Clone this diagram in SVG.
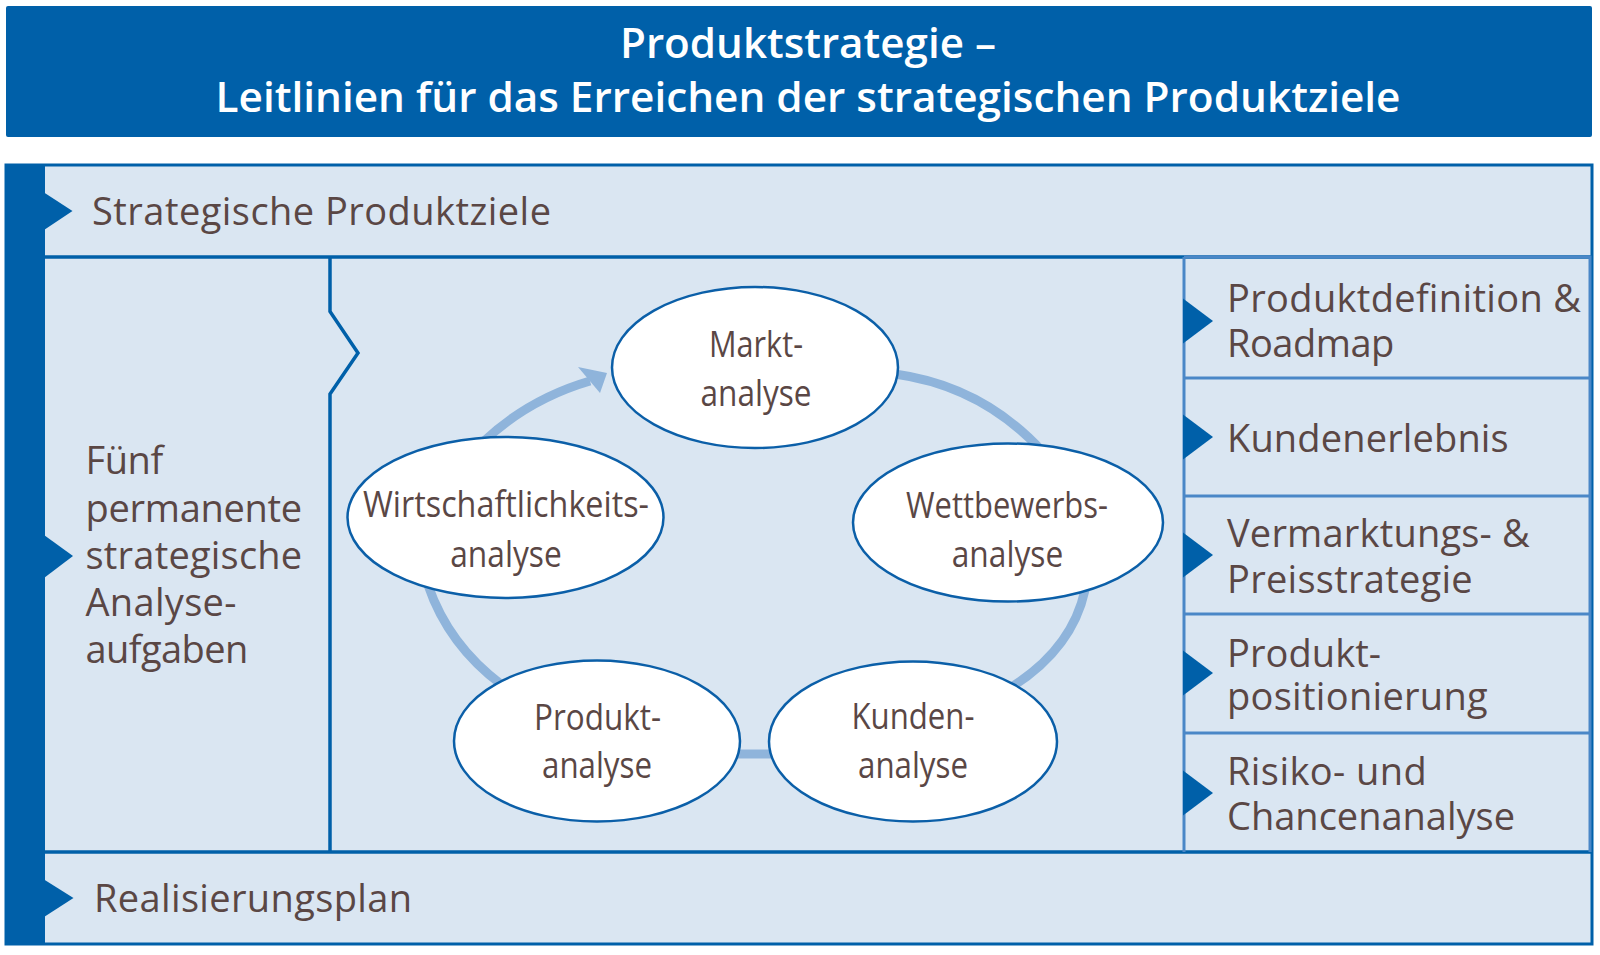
<svg xmlns="http://www.w3.org/2000/svg" width="1600" height="955" viewBox="0 0 1600 955">
<style>
.t{font-family:"Open Sans","Noto Sans","DejaVu Sans",sans-serif;fill:#5a4745;font-size:38px}
.c{font-family:"Open Sans","Noto Sans","DejaVu Sans",sans-serif;fill:#5a4745;font-size:36px;text-anchor:middle}
.h{font-family:"Open Sans","Noto Sans","DejaVu Sans",sans-serif;font-weight:600;fill:#ffffff;font-size:41px;text-anchor:middle}
.dk{fill:#0060a9}
.dl{fill:none;stroke:#0060a9;stroke-width:3.5}
.ml{fill:none;stroke:#4a87c7;stroke-width:3}
.ell{fill:#ffffff;stroke:#0b5fa8;stroke-width:2.5}
.arc{fill:none;stroke:#8fb4db;stroke-width:9}
</style>
<rect x="0" y="0" width="1600" height="955" fill="#ffffff"/>

<g id="title">
<rect x="6" y="6" width="1586" height="131" rx="2" class="dk"/>
<text class="h" x="808" y="58" textLength="376" lengthAdjust="spacingAndGlyphs">Produktstrategie –</text>
<text class="h" x="808" y="112" textLength="1185" lengthAdjust="spacingAndGlyphs">Leitlinien für das Erreichen der strategischen Produktziele</text>
</g>

<g id="frame">
<rect x="6" y="165" width="1586" height="779" fill="#dae6f2" stroke="#0060a9" stroke-width="3"/>
<rect x="6" y="165" width="39" height="779" class="dk"/>
<line x1="45" y1="257" x2="1592" y2="257" class="dl"/>
<line x1="45" y1="852" x2="1592" y2="852" class="dl"/>
</g>

<g id="top-row">
<polygon points="44,192.5 72.5,211 44,230" class="dk"/>
<text class="t" x="92" y="225" textLength="459">Strategische Produktziele</text>
</g>

<g id="left-column">
<path d="M330,257 V311.5 L358,353 L330,394 V852" class="dl" stroke-width="3"/>
<polygon points="44,535 73,556 44,578" class="dk"/>
<text class="t" x="85.5" y="474" textLength="77.7">Fünf</text>
<text class="t" x="85.5" y="521.5" textLength="216.7">permanente</text>
<text class="t" x="85.5" y="568.5" textLength="216.7">strategische</text>
<text class="t" x="85.5" y="616" textLength="151">Analyse-</text>
<text class="t" x="85.5" y="663" textLength="162.7">aufgaben</text>
</g>

<g id="connectors">
<path d="M483,442 Q528.5,399 590,381" class="arc"/>
<polygon points="578,367 607,373 600,393" fill="#8fb4db"/>
<path d="M895,374 Q982.5,386 1043,452" class="arc"/>
<path d="M1085,590 Q1072,649.5 1010,688" class="arc"/>
<path d="M735,754 H775" class="arc" stroke-width="12"/>
<path d="M428,585 Q448.4,645 502,685" class="arc"/>
</g>

<g id="markt">
<ellipse cx="755" cy="367.5" rx="143" ry="80.5" class="ell"/>
<text class="c" x="756" y="357" textLength="94" lengthAdjust="spacingAndGlyphs">Markt-</text>
<text class="c" x="756" y="406" textLength="111" lengthAdjust="spacingAndGlyphs">analyse</text>
</g>

<g id="wettbewerb">
<ellipse cx="1008" cy="522.5" rx="155" ry="79" class="ell"/>
<text class="c" x="1007" y="518" textLength="202" lengthAdjust="spacingAndGlyphs">Wettbewerbs-</text>
<text class="c" x="1007.5" y="567" textLength="111.5" lengthAdjust="spacingAndGlyphs">analyse</text>
</g>

<g id="kunden">
<ellipse cx="913" cy="741.5" rx="144" ry="80" class="ell"/>
<text class="c" x="913" y="729" textLength="123" lengthAdjust="spacingAndGlyphs">Kunden-</text>
<text class="c" x="913" y="778" textLength="110" lengthAdjust="spacingAndGlyphs">analyse</text>
</g>

<g id="produkt">
<ellipse cx="597" cy="741" rx="143" ry="80.5" class="ell"/>
<text class="c" x="597.5" y="730" textLength="127" lengthAdjust="spacingAndGlyphs">Produkt-</text>
<text class="c" x="597" y="778" textLength="110" lengthAdjust="spacingAndGlyphs">analyse</text>
</g>

<g id="wirtschaftlichkeit">
<ellipse cx="505.5" cy="517.5" rx="158" ry="80.5" class="ell"/>
<text class="c" x="506" y="517" textLength="286" lengthAdjust="spacingAndGlyphs">Wirtschaftlichkeits-</text>
<text class="c" x="506" y="567" textLength="111.5" lengthAdjust="spacingAndGlyphs">analyse</text>
</g>

<g id="right-column">
<path d="M1184,257 V852 M1184,257 H1590 V852 M1184,378 H1590 M1184,496 H1590 M1184,614 H1590 M1184,733 H1590" class="ml"/>
</g>

<g id="produktdefinition">
<polygon points="1183,298.5 1213,321 1183,343.5" class="dk"/>
<text class="t" x="1227" y="311.7" textLength="354">Produktdefinition &amp;</text>
<text class="t" x="1227" y="356.7" textLength="167.3">Roadmap</text>
</g>

<g id="kundenerlebnis">
<polygon points="1183,414.5 1213,437 1183,459.5" class="dk"/>
<text class="t" x="1227" y="451.7" textLength="281.7">Kundenerlebnis</text>
</g>

<g id="vermarktung">
<polygon points="1183,532.5 1213,555 1183,577.5" class="dk"/>
<text class="t" x="1227" y="546.7" textLength="302.7">Vermarktungs- &amp;</text>
<text class="t" x="1227" y="592.7" textLength="245.7">Preisstrategie</text>
</g>

<g id="positionierung">
<polygon points="1183,650.5 1213,673 1183,695.5" class="dk"/>
<text class="t" x="1227" y="666.7" textLength="154">Produkt-</text>
<text class="t" x="1227" y="710" textLength="260.7">positionierung</text>
</g>

<g id="risiko">
<polygon points="1183,770.5 1213,793 1183,815.5" class="dk"/>
<text class="t" x="1227" y="785" textLength="199.7">Risiko- und</text>
<text class="t" x="1227" y="830" textLength="288">Chancenanalyse</text>
</g>

<g id="bottom-row">
<polygon points="44,879.5 73.5,898 44,917" class="dk"/>
<text class="t" x="94" y="911.5" textLength="318">Realisierungsplan</text>
</g>
</svg>
